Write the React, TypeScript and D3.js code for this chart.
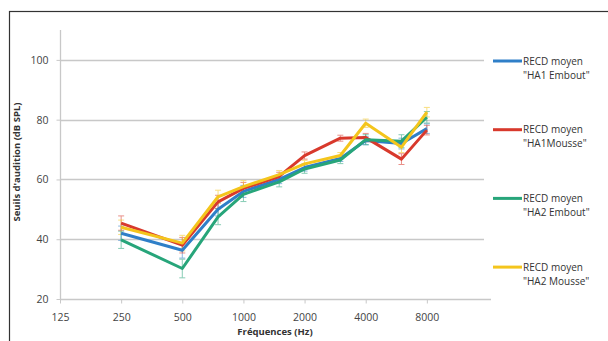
import { useEffect, useRef } from "react";
import * as d3 from "d3";

const freqs = [250, 500, 750, 1000, 1500, 2000, 3000, 4000, 6000, 8000];
const tickFreqs = [125, 250, 500, 1000, 2000, 4000, 8000];
const yTicks = [20, 40, 60, 80, 100];

const seriesNames = [
  ["RECD moyen", "\"HA1 Embout\""],
  ["RECD moyen", "\"HA1Mousse\""],
  ["RECD moyen", "\"HA2 Embout\""],
  ["RECD moyen", "\"HA2 Mousse\""],
];
const colors = ["#2f7fc8", "#d8392c", "#27a57a", "#f4c51c"];

const ha1Embout = [42, 36.3, 50, 56, 60, 64, 67, 73, 72, 77];
const ha1Mousse = [45.4, 38, 52.5, 57, 61, 68, 73.8, 74, 66.8, 76.5];
const ha2Embout = [39.8, 30.2, 47.5, 55, 59.2, 63.5, 66.5, 73.3, 72.8, 80.8];
const ha2Mousse = [44, 38.7, 54.2, 57.6, 61.6, 65.2, 68, 78.8, 70.8, 82.5];
const errors = [2.4, 2.6, 2.2, 2, 1.4, 1.2, 1, 1.4, 1.8, 1.6];

const series = [ha1Embout, ha1Mousse, ha2Embout, ha2Mousse];

export default function App() {
  const svgRef = useRef<SVGSVGElement>(null);

  useEffect(() => {
    const svg = d3.select(svgRef.current);
    svg.selectAll("*").remove();

    const font = "'Open Sans', sans-serif";

    svg.append("rect")
      .attr("x", 9.5).attr("y", 11.5)
      .attr("width", 620).attr("height", 360)
      .attr("fill", "#fff").attr("stroke", "#333").attr("stroke-width", 1.2);

    const x = d3.scaleLog().base(2).domain([125, 16000]).range([60, 488]);
    const y = d3.scaleLinear().domain([20, 110]).range([299, 30]);

    // gridlines
    svg.append("g").selectAll("line").data(yTicks.slice(1)).join("line")
      .attr("x1", 60).attr("x2", 484)
      .attr("y1", d => Math.round(y(d)) + 0.5).attr("y2", d => Math.round(y(d)) + 0.5)
      .attr("stroke", "#c8c8c8").attr("stroke-width", 1.3);

    // y axis
    const yAxis = svg.append("g").attr("transform", "translate(60.5,0)")
      .call(d3.axisLeft(y).tickValues(yTicks).tickSize(4).tickPadding(8).tickFormat(d3.format("d")));
    yAxis.select(".domain").attr("stroke", "#c8c8c8").attr("stroke-width", 1.3).attr("d", `M0,${y(110)}V${y(20)}`);
    yAxis.selectAll(".tick line").attr("stroke", "#c8c8c8");
    yAxis.selectAll("text").attr("font-family", font).attr("font-size", 10.5).attr("fill", "#444");

    // x axis
    const xAxis = svg.append("g").attr("transform", `translate(0,${Math.round(y(20)) + 0.5})`)
      .call(d3.axisBottom(x).tickValues(tickFreqs).tickSize(4).tickPadding(10).tickFormat(d3.format("d")));
    xAxis.select(".domain").attr("stroke", "#c8c8c8").attr("stroke-width", 1.3).attr("d", "M60,0H491");
    xAxis.selectAll(".tick line").attr("stroke", "#c8c8c8");
    xAxis.selectAll("text").attr("font-family", font).attr("font-size", 10.5).attr("fill", "#444");

    // error bars
    series.forEach((vals, si) => {
      const g = svg.append("g").attr("stroke", colors[si]).attr("stroke-width", 1).attr("opacity", 0.55);
      vals.forEach((v, i) => {
        const cx = x(freqs[i]);
        const e = errors[i] * (si === 2 ? 1.2 : 1);
        g.append("line").attr("x1", cx).attr("x2", cx).attr("y1", y(v - e)).attr("y2", y(v + e));
        g.append("line").attr("x1", cx - 3).attr("x2", cx + 3).attr("y1", y(v - e)).attr("y2", y(v - e));
        g.append("line").attr("x1", cx - 3).attr("x2", cx + 3).attr("y1", y(v + e)).attr("y2", y(v + e));
      });
    });

    // lines
    const line = d3.line<number>().x((_, i) => x(freqs[i])).y(d => y(d));
    series.forEach((vals, si) => {
      svg.append("path").datum(vals)
        .attr("d", line)
        .attr("fill", "none")
        .attr("stroke", colors[si])
        .attr("stroke-width", 3)
        .attr("stroke-linejoin", "round");
    });

    // axis titles
    svg.append("text")
      .attr("transform", "translate(20,162) rotate(-90)")
      .attr("text-anchor", "middle")
      .attr("font-family", font).attr("font-size", 9.5).attr("font-weight", "bold").attr("fill", "#333")
      .text("Seuils d'audition (dB SPL)");
    svg.append("text")
      .attr("x", 275).attr("y", 335)
      .attr("text-anchor", "middle")
      .attr("font-family", font).attr("font-size", 9.5).attr("font-weight", "bold").attr("fill", "#333")
      .text("Fréquences (Hz)");

    // legend
    const lg = svg.append("g");
    seriesNames.forEach((name, i) => {
      const ly = 61 + i * 68.7;
      lg.append("line").attr("x1", 493).attr("x2", 522).attr("y1", ly).attr("y2", ly)
        .attr("stroke", colors[i]).attr("stroke-width", 3);
      lg.append("text").attr("x", 523).attr("y", ly + 3.5)
        .attr("font-family", font).attr("font-size", 10).attr("fill", "#333").text(name[0]);
      lg.append("text").attr("x", 523).attr("y", ly + 17.5)
        .attr("font-family", font).attr("font-size", 10).attr("fill", "#333").text(name[1]);
    });
  }, []);

  return (
    <div style={{ position: "fixed", left: 0, top: 0, width: 608, height: 341, background: "#fff" }}>
      <svg ref={svgRef} width={608} height={341} />
    </div>
  );
}
